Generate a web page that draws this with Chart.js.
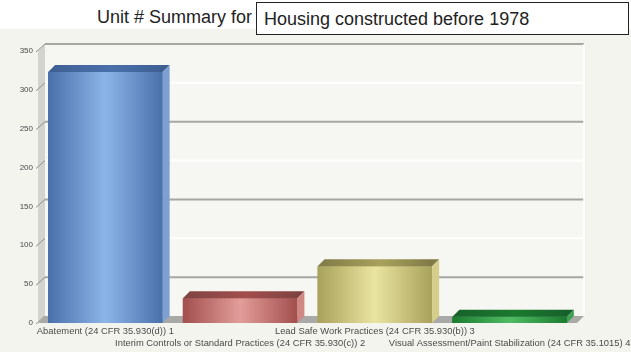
<!DOCTYPE html>
<html>
<head>
<meta charset="utf-8">
<title>Unit # Summary</title>
<script src="https://cdn.jsdelivr.net/npm/chart.js@4"></script>
<style>
  html, body {
    margin: 0;
    padding: 0;
    background: #ffffff;
    font-family: "Liberation Sans", Arial, sans-serif;
  }
  #page {
    position: relative;
    width: 631px;
    height: 352px;
    overflow: hidden;
  }
  #caption {
    position: absolute;
    left: 97px;
    top: 7px;
    font-size: 18px;
    color: #222;
    white-space: nowrap;
  }
  #filter {
    position: absolute;
    left: 256px;
    top: 2px;
    width: 373px;
    height: 33px;
    border: 1.5px solid #222;
    background: #fff;
    font-size: 18px;
    line-height: 33px;
    padding-left: 7px;
    box-sizing: border-box;
    color: #222;
    white-space: nowrap;
    z-index: 2;
  }
  #chart-wrap {
    position: absolute;
    left: 0;
    top: 29px;
    width: 631px;
    height: 323px;
  }
</style>
</head>
<body>
<div id="page">
  <div id="caption">Unit # Summary for</div>
  <div id="filter">Housing constructed before 1978</div>
  <div id="chart-wrap"><canvas id="summary-chart" width="631" height="323"></canvas></div>
</div>
<script>
// Categories and unit counts
const categories = [
  'Abatement (24 CFR 35.930(d)) 1',
  'Interim Controls or Standard Practices (24 CFR 35.930(c)) 2',
  'Lead Safe Work Practices (24 CFR 35.930(b)) 3',
  'Visual Assessment/Paint Stabilization (24 CFR 35.1015) 4',
];
const unitCounts = [323, 32, 73, 8];
const yTicks = [0, 50, 100, 150, 200, 250, 300, 350];

// Bar colours: [edge, middle, top face, side face]
const barColors = [
  ['#4a70aa', '#8cb5e9', '#3e5f92', '#7d9fd2'],
  ['#a24f4d', '#e29d9a', '#7e4442', '#d08884'],
  ['#a8a15c', '#e9e49f', '#7f7a46', '#d4ce8a'],
  ['#1b7a2e', '#4fbc63', '#16612a', '#3fa052'],
];

// 3D depth offset of the back wall
const depthX = 7;
const depthY = -7;

// Alternate the category labels over two rows
const tickLabels = categories.map((c, i) => (i % 2 === 0 ? [c, ''] : ['', c]));

/**
 * Draws the walls, floor and gridlines behind the bars,
 * then the top and side faces of each bar.
 */
const wallsPlugin = {
  id: 'walls',
  beforeDraw(chart) {
    const ctx = chart.ctx;
    ctx.save();
    ctx.fillStyle = '#f4f4ef';
    ctx.fillRect(0, 0, chart.width, chart.height);
    ctx.restore();
  },
  beforeDatasetsDraw(chart) {
    const ctx = chart.ctx;
    const area = chart.chartArea;
    const y = chart.scales.y;
    const top = y.getPixelForValue(y.max);
    const bottom = y.getPixelForValue(0);

    ctx.save();

    // back wall
    ctx.fillStyle = '#f6f6f2';
    ctx.fillRect(area.left + depthX, top + depthY, area.right - area.left, bottom - top);

    // gridlines on the back wall, grey and white in turn
    y.ticks.forEach((t, i) => {
      if (t.value === 0) return;
      const py = y.getPixelForValue(t.value) + depthY;
      ctx.strokeStyle = i % 2 === 1 ? '#a6a6a2' : '#ffffff';
      ctx.lineWidth = 2;
      ctx.beginPath();
      ctx.moveTo(area.left + depthX, py);
      ctx.lineTo(area.right + depthX, py);
      ctx.stroke();
    });

    // right edge of the back wall
    ctx.strokeStyle = '#ffffff';
    ctx.lineWidth = 1.5;
    ctx.beginPath();
    ctx.moveTo(area.right + depthX, top + depthY);
    ctx.lineTo(area.right + depthX, bottom + depthY);
    ctx.stroke();

    // left wall
    ctx.fillStyle = '#d3d3cf';
    ctx.beginPath();
    ctx.moveTo(area.left, top);
    ctx.lineTo(area.left + depthX, top + depthY);
    ctx.lineTo(area.left + depthX, bottom + depthY);
    ctx.lineTo(area.left, bottom);
    ctx.closePath();
    ctx.fill();

    // slanted tick marks on the left wall
    ctx.strokeStyle = '#8e8e8a';
    ctx.lineWidth = 1;
    y.ticks.forEach((t) => {
      const py = y.getPixelForValue(t.value);
      ctx.beginPath();
      ctx.moveTo(area.left - 2, py + 1);
      ctx.lineTo(area.left + depthX, py + depthY);
      ctx.stroke();
    });

    // floor
    ctx.fillStyle = '#a9a9a7';
    ctx.beginPath();
    ctx.moveTo(area.left, bottom);
    ctx.lineTo(area.left + depthX, bottom + depthY);
    ctx.lineTo(area.right + depthX, bottom + depthY);
    ctx.lineTo(area.right, bottom);
    ctx.closePath();
    ctx.fill();

    ctx.restore();
  },
  afterDatasetsDraw(chart) {
    const ctx = chart.ctx;
    const meta = chart.getDatasetMeta(0);
    ctx.save();
    meta.data.forEach((bar, i) => {
      const c = barColors[i];
      const left = bar.x - bar.width / 2;
      const right = bar.x + bar.width / 2;
      const top = bar.y;
      const base = bar.base;

      // front face with a cylinder-like shine
      const g = ctx.createLinearGradient(left, 0, right, 0);
      g.addColorStop(0, c[0]);
      g.addColorStop(0.5, c[1]);
      g.addColorStop(1, c[0]);
      ctx.fillStyle = g;
      ctx.fillRect(left, top, right - left, base - top);

      // top face
      const gt = ctx.createLinearGradient(left, 0, right, 0);
      gt.addColorStop(0, c[2]);
      gt.addColorStop(0.55, c[0]);
      gt.addColorStop(1, c[2]);
      ctx.fillStyle = gt;
      ctx.beginPath();
      ctx.moveTo(left, top);
      ctx.lineTo(left + depthX, top + depthY);
      ctx.lineTo(right + depthX, top + depthY);
      ctx.lineTo(right, top);
      ctx.closePath();
      ctx.fill();

      // side face
      ctx.fillStyle = c[3];
      ctx.beginPath();
      ctx.moveTo(right, top);
      ctx.lineTo(right + depthX, top + depthY);
      ctx.lineTo(right + depthX, base + depthY);
      ctx.lineTo(right, base);
      ctx.closePath();
      ctx.fill();
    });
    ctx.restore();
  },
};

const summaryChart = new Chart(document.getElementById('summary-chart'), {
  type: 'bar',
  data: {
    labels: tickLabels,
    datasets: [
      {
        data: unitCounts,
        backgroundColor: barColors.map((c) => c[0]),
        borderWidth: 0,
        categoryPercentage: 1,
        barPercentage: 0.85,
      },
    ],
  },
  options: {
    animation: false,
    responsive: false,
    events: [],
    layout: {
      padding: { top: 22, right: 54, left: 0, bottom: 0 },
    },
    plugins: {
      legend: { display: false },
      tooltip: { enabled: false },
    },
    scales: {
      x: {
        grid: { display: false, drawTicks: false },
        border: { display: false },
        ticks: {
          autoSkip: false,
          maxRotation: 0,
          minRotation: 0,
          padding: 2,
          color: '#4a4a4a',
          font: { family: 'Liberation Sans', size: 9.4, lineHeight: 1.3 },
        },
        afterFit(scale) {
          // long labels may spill past the edges; keep the plot width fixed
          scale.height = 29;
          scale.paddingLeft = 0;
          scale.paddingRight = 0;
        },
      },
      y: {
        min: 0,
        max: 350,
        afterBuildTicks(scale) {
          scale.ticks = yTicks.map((v) => ({ value: v }));
        },
        grid: { display: false, drawTicks: false },
        border: { display: false },
        ticks: {
          padding: 5,
          color: '#4a4a4a',
          font: { family: 'Liberation Sans', size: 8 },
        },
        afterFit(scale) {
          scale.width = 38;
        },
      },
    },
  },
  plugins: [wallsPlugin],
});
</script>
</body>
</html>
